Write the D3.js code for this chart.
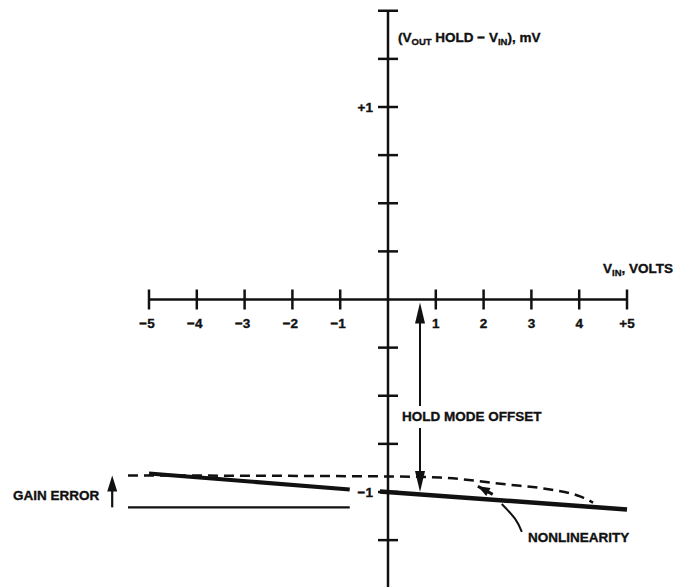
<!DOCTYPE html>
<html>
<head>
<meta charset="utf-8">
<script src="https://cdn.jsdelivr.net/npm/d3@7"></script>
<style>
  body { margin: 0; background: #fff; }
  svg text { font-family: "Liberation Sans", Arial, sans-serif; font-weight: bold; fill: #111; stroke: #111; stroke-width: 0.35; }
  .axis { stroke: #111; stroke-width: 2.5; fill: none; }
</style>
</head>
<body>
<svg id="vis" width="689" height="587"></svg>
<script>
// x ticks (volts) and their labels, 0 has no label
var X_TICKS = [-5, -4, -3, -2, -1, 0, 1, 2, 3, 4, 5];
var X_LABELS = ["\u22125", "\u22124", "\u22123", "\u22122", "\u22121", "", "1", "2", "3", "4", "+5"];
// y ticks (mV), every 0.25
var Y_TICKS = [-1.5, -1.25, -1, -0.75, -0.5, -0.25, 0.25, 0.5, 0.75, 1, 1.25, 1.5];
var Y_LABELED = [1, -1];
var Y_LABEL_TEXT = ["+1", "\u22121"];

// thick transfer line, broken around the axis
var THICK_LEFT_X = [-5, -0.8];
var THICK_LEFT_Y = [-0.904, -0.987];
var THICK_RIGHT_X = [-0.17, 5];
var THICK_RIGHT_Y = [-0.997, -1.091];
// dashed (ideal) curve
var DASH_X = [-5.44, 0, 1.09, 2.49, 3.39, 4.02, 4.29];
var DASH_Y = [-0.914, -0.919, -0.925, -0.961, -0.987, -1.023, -1.055];
// thin gain-error reference
var THIN_X = [-5.44, -0.8];
var THIN_Y = [-1.08, -1.08];

var svg = d3.select("#vis");
var x = d3.scaleLinear().domain([-5, 5]).range([149, 627]);
var y = d3.scaleLinear().domain([-1, 1]).range([492, 107]);

function pts(xs, ys) { return xs.map((v, i) => [x(v), y(ys[i])]); }

function arrowHead(tx, ty, angle, len, half) {
	// angle = direction the arrow points to (radians)
	var bx = tx - Math.cos(angle) * len, by = ty - Math.sin(angle) * len;
	var nx = -Math.sin(angle) * half, ny = Math.cos(angle) * half;
	svg.append("path")
	   .attr("d", "M" + tx + "," + ty + "L" + (bx + nx) + "," + (by + ny) + "L" + (bx - nx) + "," + (by - ny) + "Z")
	   .attr("fill", "#111");
}

// x-axis
svg.append("line").attr("class", "axis")
   .attr("x1", x(-5)).attr("x2", x(5)).attr("y1", y(0)).attr("y2", y(0));
svg.selectAll(".xtick").data(X_TICKS.filter(d => d != 0)).enter()
   .append("line").attr("class", "axis xtick")
   .attr("x1", d => x(d)).attr("x2", d => x(d))
   .attr("y1", y(0) - 10).attr("y2", y(0) + 10);
svg.selectAll(".xlab").data(X_TICKS).enter()
   .append("text").attr("class", "xlab")
   .attr("x", d => x(d) - (d < 0 ? 2 : 0)).attr("y", y(0) + 28)
   .attr("text-anchor", "middle").attr("font-size", 13.5)
   .text((d, i) => X_LABELS[i]);

// y-axis
svg.append("line").attr("class", "axis")
   .attr("x1", x(0)).attr("x2", x(0)).attr("y1", y(1.5)).attr("y2", 600);
svg.selectAll(".ytick").data(Y_TICKS).enter()
   .append("line").attr("class", "axis ytick")
   .attr("x1", x(0) - 10).attr("x2", x(0) + 10)
   .attr("y1", d => y(d)).attr("y2", d => y(d));
svg.selectAll(".ylab").data(Y_LABELED).enter()
   .append("text")
   .attr("x", x(0) - 15).attr("y", d => y(d) + 5)
   .attr("text-anchor", "end").attr("font-size", 13.5)
   .text((d, i) => Y_LABEL_TEXT[i]);

// axis titles
var yt = svg.append("text").attr("x", 398).attr("y", 42).attr("font-size", 13.5);
yt.append("tspan").text("(V");
yt.append("tspan").attr("font-size", 9.5).attr("dy", 3).text("OUT");
yt.append("tspan").attr("dy", -3).text(" HOLD \u2212 V");
yt.append("tspan").attr("font-size", 9.5).attr("dy", 3).text("IN");
yt.append("tspan").attr("dy", -3).text("), mV");

var xt = svg.append("text").attr("x", 603).attr("y", 273).attr("font-size", 13.5);
xt.append("tspan").text("V");
xt.append("tspan").attr("font-size", 9.5).attr("dy", 3).text("IN");
xt.append("tspan").attr("dy", -3).text(", VOLTS");

// curves
var line = d3.line();
svg.append("path").attr("d", line(pts(THICK_LEFT_X, THICK_LEFT_Y)))
   .attr("stroke", "#111").attr("stroke-width", 4).attr("fill", "none");
svg.append("path").attr("d", line(pts(THICK_RIGHT_X, THICK_RIGHT_Y)))
   .attr("stroke", "#111").attr("stroke-width", 4.5).attr("fill", "none");
svg.append("path").attr("d", line(pts(THIN_X, THIN_Y)))
   .attr("stroke", "#111").attr("stroke-width", 2.2).attr("fill", "none");
svg.append("path").attr("d", d3.line().curve(d3.curveMonotoneX)(pts(DASH_X, DASH_Y)))
   .attr("stroke", "#111").attr("stroke-width", 2.5).attr("fill", "none")
   .attr("stroke-dasharray", "10,6");

// GAIN ERROR arrow
var gx = x(-5.77);
svg.append("line").attr("x1", gx).attr("x2", gx).attr("y1", y(-1.08)).attr("y2", y(-0.914) + 12)
   .attr("stroke", "#111").attr("stroke-width", 2.2);
arrowHead(gx, y(-0.914), -Math.PI / 2, 16, 5);
svg.append("text").attr("x", 13).attr("y", 500).attr("font-size", 13.5).text("GAIN ERROR");

// HOLD MODE OFFSET double arrow
var hx = x(0.67);
svg.append("line").attr("x1", hx).attr("x2", hx).attr("y1", y(0) + 18).attr("y2", 406)
   .attr("stroke", "#111").attr("stroke-width", 2);
svg.append("line").attr("x1", hx).attr("x2", hx).attr("y1", 428).attr("y2", y(-1.0) - 18)
   .attr("stroke", "#111").attr("stroke-width", 2);
arrowHead(hx, y(0) + 3, -Math.PI / 2, 21, 5);
arrowHead(hx, y(-1.0), Math.PI / 2, 21, 5);
svg.append("text").attr("x", 402).attr("y", 421).attr("font-size", 13.5).text("HOLD MODE OFFSET");

// NONLINEARITY
var nh = [x(1.88), y(-0.970)], nt = [x(2.19), y(-1.012)];
var ang = Math.atan2(nh[1] - nt[1], nh[0] - nt[0]);
svg.append("line").attr("x1", nt[0]).attr("y1", nt[1]).attr("x2", nh[0]).attr("y2", nh[1])
   .attr("stroke", "#111").attr("stroke-width", 3);
arrowHead(nh[0], nh[1], ang, 12, 4.5);
svg.append("path")
   .attr("d", d3.line().curve(d3.curveNatural)(pts([2.38, 2.66, 2.80], [-1.062, -1.140, -1.207])))
   .attr("stroke", "#111").attr("stroke-width", 2).attr("fill", "none");
svg.append("text").attr("x", 528).attr("y", 542).attr("font-size", 13.5).text("NONLINEARITY");
</script>
</body>
</html>
